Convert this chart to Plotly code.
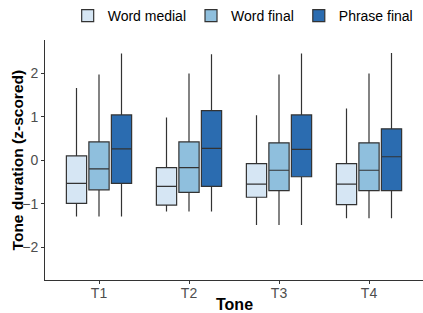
import plotly.graph_objects as go

tones = ["T1", "T2", "T3", "T4"]
series = ["Word medial", "Word final", "Phrase final"]
colors = ["#d6e6f4", "#8fbfdd", "#2b6cb0"]

lower = {
    "Word medial": [-1.29, -1.18, -1.49, -1.33],
    "Word final": [-1.29, -1.18, -1.49, -1.33],
    "Phrase final": [-1.29, -1.18, -1.49, -1.33],
}
q1 = {
    "Word medial": [-0.99, -1.03, -0.85, -1.02],
    "Word final": [-0.68, -0.74, -0.70, -0.70],
    "Phrase final": [-0.53, -0.60, -0.38, -0.70],
}
median = {
    "Word medial": [-0.53, -0.60, -0.55, -0.55],
    "Word final": [-0.20, -0.17, -0.23, -0.23],
    "Phrase final": [0.26, 0.27, 0.25, 0.08],
}
q3 = {
    "Word medial": [0.10, -0.17, -0.08, -0.08],
    "Word final": [0.42, 0.42, 0.40, 0.40],
    "Phrase final": [1.04, 1.14, 1.04, 0.72],
}
upper = {
    "Word medial": [1.66, 0.98, 1.03, 1.19],
    "Word final": [1.97, 1.99, 1.97, 1.99],
    "Phrase final": [2.45, 2.43, 2.45, 2.46],
}

fig = go.Figure()
for s, c in zip(series, colors):
    fig.add_trace(go.Box(
        name=s, x=tones, q1=q1[s], median=median[s], q3=q3[s],
        lowerfence=lower[s], upperfence=upper[s],
        fillcolor=c, line=dict(color="#333333", width=1.2),
        boxpoints=False, whiskerwidth=0, hoverinfo="skip",
    ))

fig.update_layout(
    width=423, height=313,
    margin=dict(l=45, r=0, t=40, b=33),
    paper_bgcolor="white", plot_bgcolor="white",
    boxmode="group", boxgap=0.25, boxgroupgap=0.1,
    font=dict(family="Liberation Sans, Arial, sans-serif", size=13, color="#4d4d4d"),
    legend=dict(orientation="h", x=0.06, xanchor="left", y=1.0, yanchor="top",
                yref="container", font=dict(size=14, color="black"),
                tracegroupgap=0, itemwidth=30),
    showlegend=True,
    annotations=[
        dict(text="<b>Tone duration (z-scored)</b>", xref="paper", yref="paper",
             x=-0.073, y=0.5, xanchor="center", yanchor="middle", textangle=-90,
             showarrow=False, font=dict(size=15.5, color="black")),
        dict(text="<b>Tone</b>", xref="paper", yref="paper",
             x=0.5, y=-0.104, xanchor="center", yanchor="middle",
             showarrow=False, font=dict(size=16, color="black")),
    ],
)
fig.update_xaxes(
    type="category", range=[-0.6, 3.6], automargin=False,
    showline=True, linecolor="#333333", linewidth=1,
    ticks="outside", ticklen=3, tickcolor="#333333",
    tickfont=dict(size=14, color="#4d4d4d"), ticklabelstandoff=-3,
    showgrid=False, zeroline=False,
)
fig.update_yaxes(
    range=[-2.75, 2.76], tickvals=[-2, -1, 0, 1, 2], automargin=False,
    showline=True, linecolor="#333333", linewidth=1,
    ticks="outside", ticklen=3, tickcolor="#333333",
    tickfont=dict(size=14, color="#4d4d4d"),
    showgrid=False, zeroline=False,
)
fig.write_html("out.html", config={"displayModeBar": False},
               post_script="document.body.style.margin='0';")
